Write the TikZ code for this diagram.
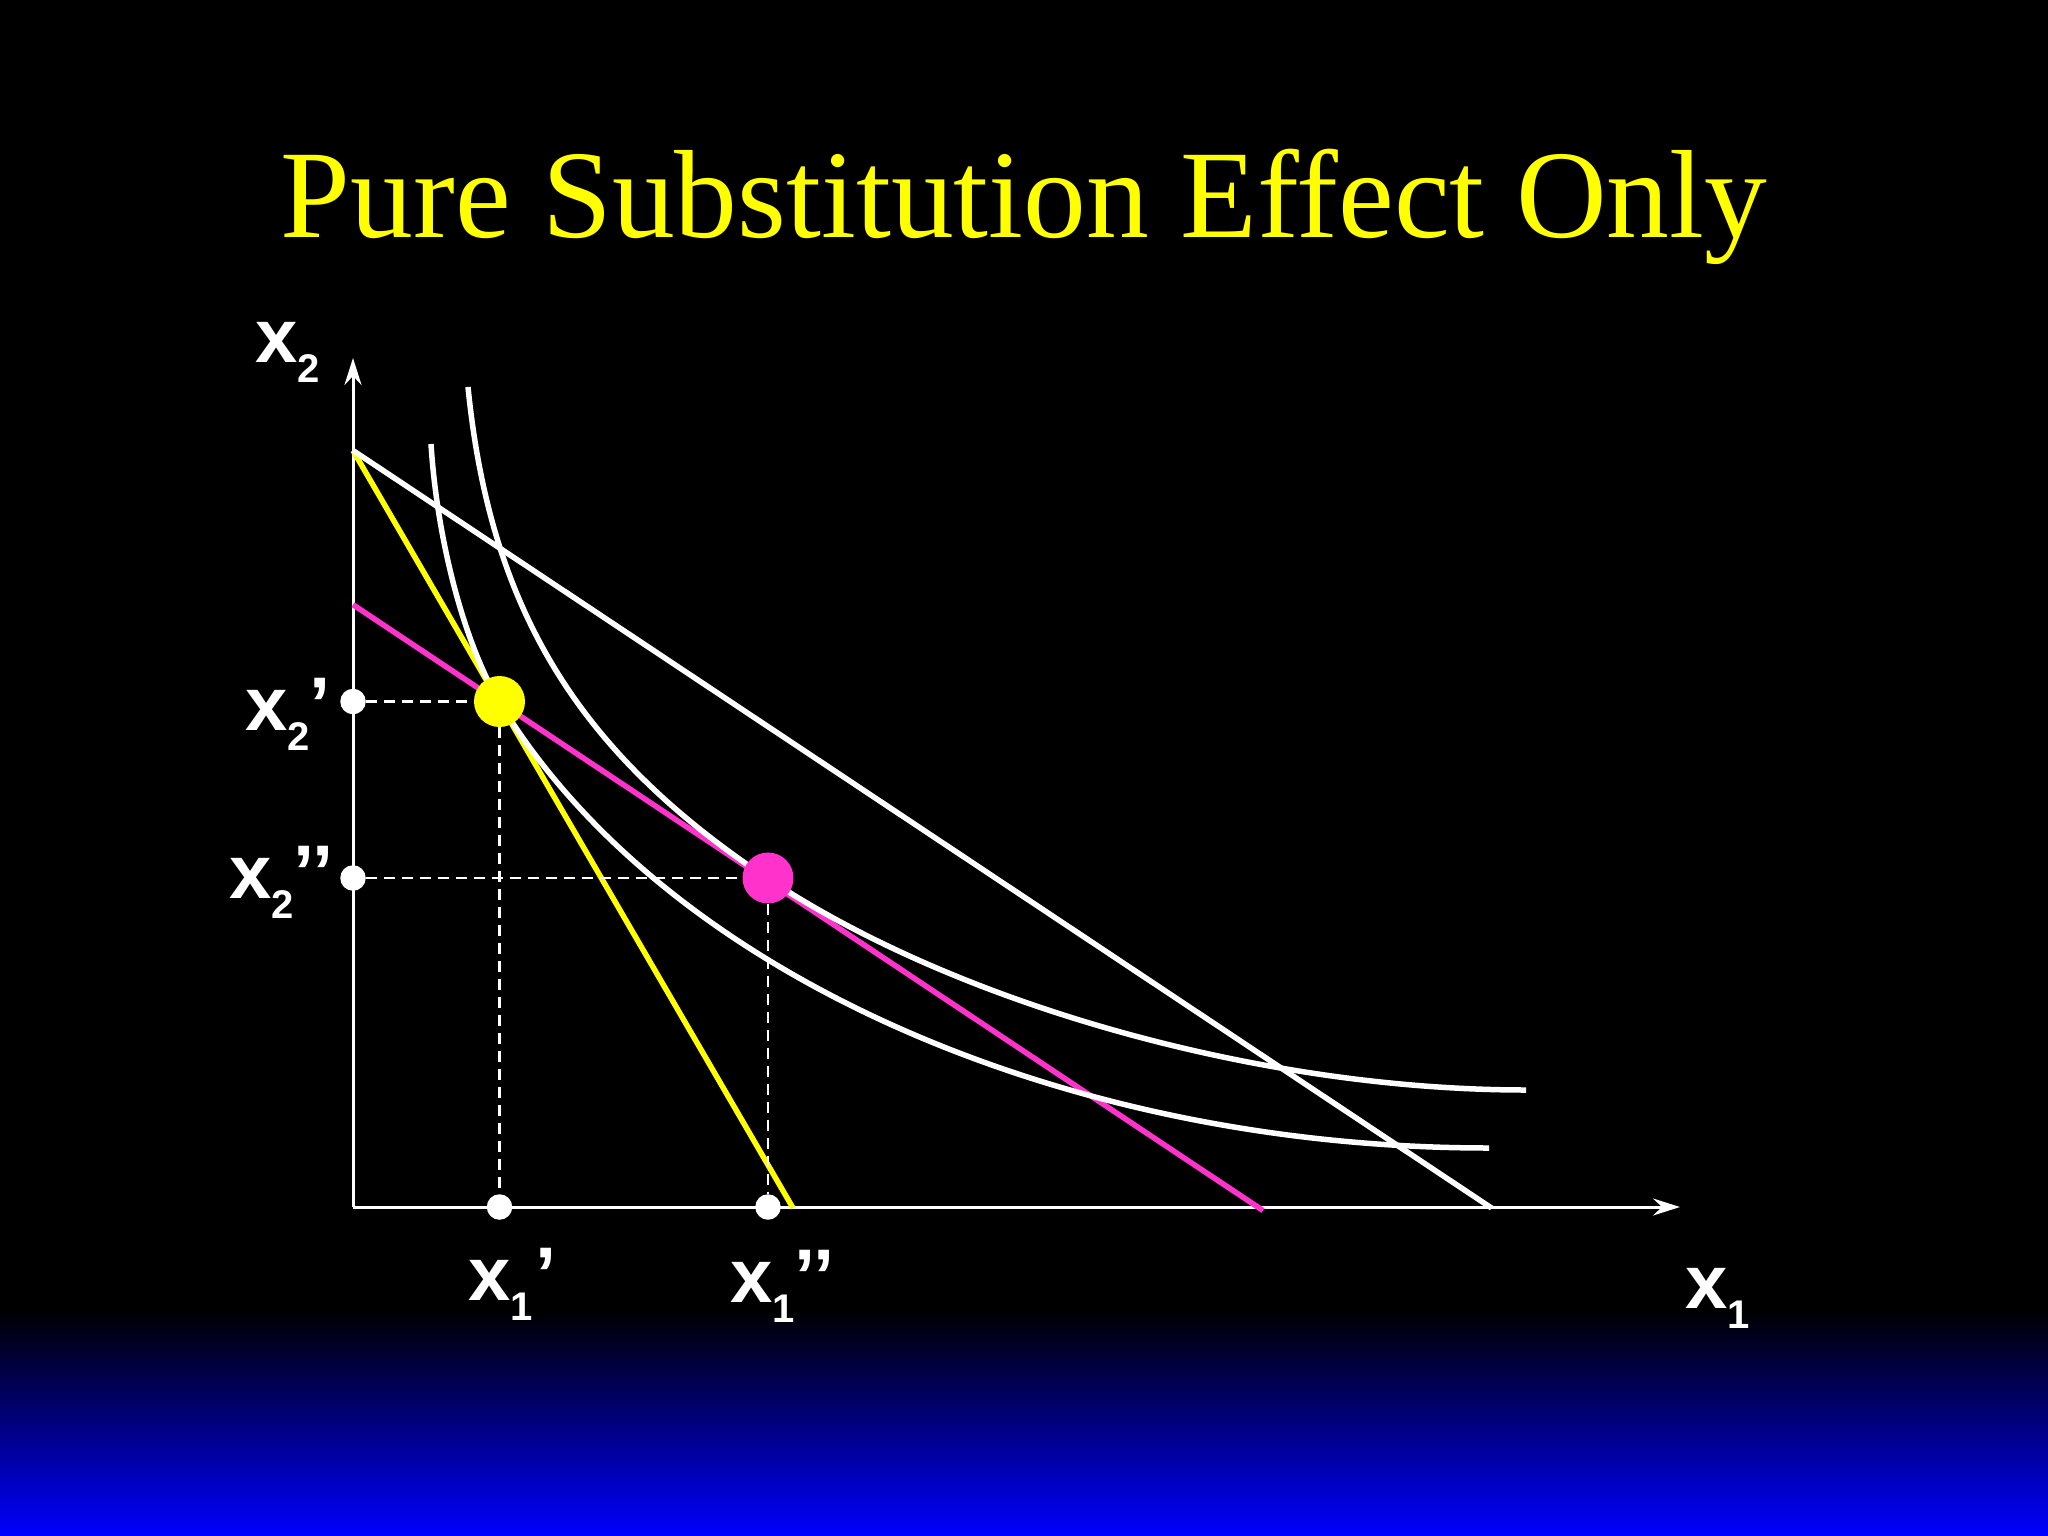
\documentclass[tikz,border=0pt]{standalone}
\usepackage{fontspec}
\setmainfont{Liberation Serif}
\newfontfamily\sansb{Liberation Sans}
\usetikzlibrary{arrows.meta}
\definecolor{ttl}{RGB}{255,255,0}
\definecolor{pinkc}{RGB}{255,51,204}
\definecolor{bgblue}{RGB}{0,0,255}
\newcommand\xlab[2]{{\sansb\bfseries\fontsize{76}{76}\selectfont x\raisebox{-20pt}{\fontsize{40}{40}\selectfont #1}#2}}
\begin{document}
\begin{tikzpicture}[x=1pt,y=-1pt,
  axisline/.style={white,line width=3pt},
  icurve/.style={white,line width=5.5pt},
  bline/.style={line width=5.5pt},
  dashline/.style={white,line width=2.6pt,dash pattern=on 11pt off 7pt},
  bigdot/.style={circle,draw=none,minimum size=51pt,inner sep=0pt},
  smalldot/.style={circle,fill=white,draw=none,minimum size=25.5pt,inner sep=0pt},
  lab/.style={text=white,inner sep=0pt,anchor=base west}]
\useasboundingbox (0,0) rectangle (2048,1536);
\fill[black] (0,0) rectangle (2048,1536);
\shade[top color=black,bottom color=bgblue] (0,1310) rectangle (2048,1536);

% title
\node[text=ttl,anchor=base,inner sep=0pt] (title) at (1024,237) {\fontsize{125.5}{126}\selectfont Pure Substitution Effect Only};

% axes
\coordinate (O) at (353,1207);
\coordinate (ytip) at (353,358);
\coordinate (xtip) at (1680,1207);
\draw[axisline,-{Stealth[length=27pt,width=17pt,inset=9pt]}] (O) -- (ytip);
\draw[axisline,-{Stealth[length=27pt,width=17pt,inset=9pt]}] (O) -- (xtip);

% budget lines
\coordinate (BL0) at (353,450.5);
\coordinate (BL1) at (1491.5,1208);
\coordinate (YL1) at (793,1208);
\coordinate (ML0) at (353,604.7);
\coordinate (ML1) at (1263,1210.5);
\draw[bline,pinkc] (ML0) -- (ML1);
\draw[bline,ttl] (BL0) -- (YL1);

% indifference curves
\coordinate (C1a) at (431,444);
\coordinate (C1b) at (500,703);
\coordinate (C1c) at (1489,1148);
\coordinate (C2a) at (468,387);
\coordinate (C2b) at (767,878);
\coordinate (C2c) at (1526,1090);
\draw[icurve] (C1a) .. controls (437.2,541.6) and (464.9,645) .. (C1b)
  .. controls (661.6,969.8) and (1057.4,1148) .. (C1c);
\draw[icurve] (C2a) .. controls (490.5,612) and (579.8,753.4) .. (C2b)
  .. controls (957.6,1004.9) and (1262,1090) .. (C2c);
\draw[bline,white] (BL0) -- (BL1);

% points
\node[bigdot,fill=ttl] (E1) at (499.5,701.5) {};
\node[bigdot,fill=pinkc] (E2) at (768,878) {};
\node[smalldot] (Y1) at (353,701.5) {};
\node[smalldot] (Y2) at (353,878) {};
\node[smalldot] (X1) at (499.5,1207) {};
\node[smalldot] (X2) at (768,1207) {};
\draw[dashline] (Y1) -- (E1);
\draw[dashline] (E1) -- (X1);
\draw[dashline] (Y2) -- (E2);
\draw[dashline] (E2) -- (X2);

% labels
\node[lab] (lx2) at (255,362) {\xlab{2}{}};
\node[lab] (lx1) at (1685,1308) {\xlab{1}{}};
\node[lab] (lx2a) at (245,730) {\xlab{2}{’}};
\node[lab] (lx2b) at (229,898) {\xlab{2}{’’}};
\node[lab] (lx1a) at (468,1300) {\xlab{1}{\kern3pt’}};
\node[lab] (lx1b) at (730,1302) {\xlab{1}{’’}};
\end{tikzpicture}
\end{document}
